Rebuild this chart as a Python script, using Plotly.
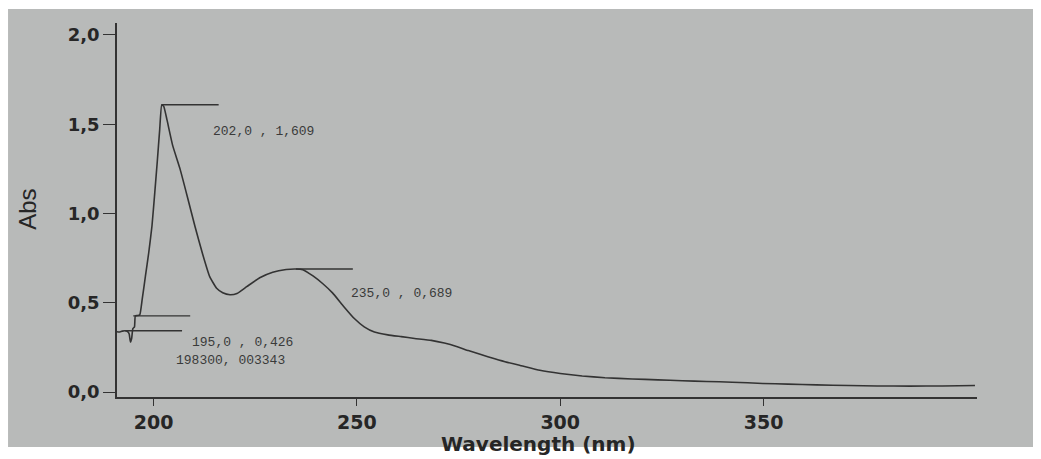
import plotly.graph_objects as go

# ---- data ----
wavelength_nm = [190.8, 191.5, 192.3, 193.0, 193.6, 194.0, 194.3, 194.6, 194.9, 195.3,
                 195.5, 196.0, 196.6, 197.2, 198.0, 198.8, 199.6, 200.3, 200.9, 201.5,
                 202.0, 202.5, 203.3, 204.7, 206.5, 208.3, 210.2, 212.0, 213.8, 215.5,
                 217.0, 218.8, 220.5, 222.9, 226.1, 229.3, 232.6, 235.0, 236.7, 239.2,
                 241.7, 244.0, 246.8, 249.3, 251.8, 254.3, 257.6, 260.9, 264.2, 268.3,
                 271.5, 274.5, 277.4, 280.5, 283.9, 287.0, 290.0, 295.0, 300.0, 305.4,
                 311.0, 317.7, 324.0, 330.0, 336.0, 342.3, 349.8, 356.0, 363.0, 371.0,
                 378.0, 386.0, 394.0, 402.0]
absorbance = [0.338, 0.336, 0.341, 0.343, 0.338, 0.325, 0.280, 0.300, 0.355, 0.365,
              0.426, 0.428, 0.432, 0.520, 0.650, 0.780, 0.930, 1.120, 1.290, 1.470,
              1.609, 1.600, 1.524, 1.380, 1.250, 1.094, 0.926, 0.777, 0.646, 0.581,
              0.556, 0.545, 0.552, 0.590, 0.640, 0.671, 0.686, 0.689, 0.685, 0.650,
              0.605, 0.555, 0.478, 0.413, 0.365, 0.336, 0.320, 0.310, 0.300, 0.289,
              0.274, 0.255, 0.232, 0.210, 0.186, 0.166, 0.150, 0.122, 0.104, 0.090,
              0.080, 0.073, 0.068, 0.063, 0.059, 0.055, 0.048, 0.044, 0.040, 0.036,
              0.034, 0.033, 0.034, 0.036]

peak_x = [202.0, 235.0, 195.0, 193.0]
peak_y = [1.609, 0.689, 0.426, 0.343]
peak_labels = ["202,0 , 1,609", "235,0 , 0,689", "195,0 , 0,426", "198300, 003343"]

x_tick_vals = [200, 250, 300, 350]
x_tick_text = ["200", "250", "300", "350"]
y_tick_vals = [0.0, 0.5, 1.0, 1.5, 2.0]
y_tick_text = ["0,0", "0,5", "1,0", "1,5", "2,0"]

# ---- styling ----
INK = "#333333"
BG = "#b8bab9"

fig = go.Figure()
fig.add_trace(go.Scatter(x=wavelength_nm, y=absorbance, mode="lines",
                         line=dict(color=INK, width=1.6, shape="spline", smoothing=0.4),
                         showlegend=False, hoverinfo="skip"))

# photo-like grey background
fig.add_shape(type="rect", xref="paper", yref="paper",
              x0=-0.1267, x1=1.0686, y0=-0.1337, y1=1.0374,
              fillcolor=BG, line=dict(width=0), layer="below")

# peak marker lines
for px_, py_ in zip(peak_x, peak_y):
    fig.add_shape(type="line", xref="x", yref="y",
                  x0=px_, x1=px_ + 14, y0=py_, y1=py_,
                  line=dict(color=INK, width=1.3))

# peak labels
label_dx = [12, 13, 14, 12]
label_dy = [-0.152, -0.14, -0.146, -0.164]
for px_, py_, txt, dx, dy in zip(peak_x, peak_y, peak_labels, label_dx, label_dy):
    fig.add_annotation(x=px_ + dx, y=py_ + dy, text=txt, showarrow=False,
                       xanchor="left", yanchor="middle",
                       font=dict(family="Liberation Mono, DejaVu Sans Mono, monospace",
                                 size=13, color="#3a3a3a"))

# axis titles
fig.add_annotation(xref="paper", yref="paper", x=0.49, y=-0.127,
                   text="Wavelength (nm)", showarrow=False,
                   xanchor="center", yanchor="middle",
                   font=dict(family="DejaVu Sans", size=20, color="#262626", weight="bold"))
fig.add_annotation(xref="paper", yref="paper", x=-0.1035, y=0.503,
                   text="Abs", showarrow=False, textangle=-90,
                   xanchor="center", yanchor="middle",
                   font=dict(family="Liberation Sans Narrow, Liberation Sans, Arial",
                             size=24, color="#262626"))

fig.update_xaxes(range=[191.0, 402.5], showline=True, linecolor=INK, linewidth=1.5,
                 showgrid=False, zeroline=False, ticks="outside", ticklen=7,
                 tickwidth=1.3, tickcolor=INK, tickvals=x_tick_vals, ticktext=x_tick_text,
                 tickfont=dict(family="DejaVu Sans", size=19, color="#262626", weight="bold"))
fig.update_yaxes(range=[-0.028, 2.067], showline=True, linecolor=INK, linewidth=1.5,
                 showgrid=False, zeroline=False, ticks="outside", ticklen=12,
                 tickwidth=1.3, tickcolor=INK, tickvals=y_tick_vals, ticktext=y_tick_text,
                 tickfont=dict(family="DejaVu Sans", size=18, color="#262626", weight="bold"))

# page body has an 8px margin, so the plot area is placed 8px up/left of the target
fig.update_layout(width=1041, height=459,
                  margin=dict(l=109, r=72, t=15, b=70),
                  paper_bgcolor="white", plot_bgcolor="rgba(0,0,0,0)")

fig.write_html("out.html")
